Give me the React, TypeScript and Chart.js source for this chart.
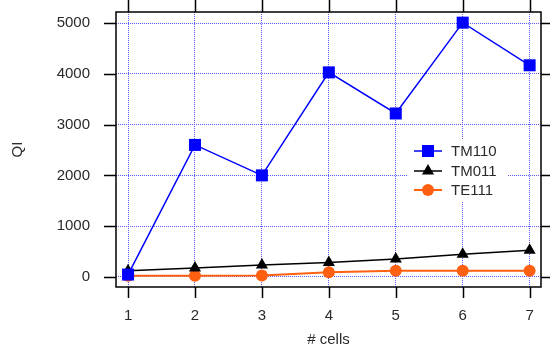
import React, { useEffect, useRef } from "react";
import { Chart, registerables } from "chart.js";

Chart.register(...registerables);

const cells = [1, 2, 3, 4, 5, 6, 7];
const tm110 = [45, 2600, 2000, 4030, 3220, 5010, 4170];
const tm011 = [120, 175, 235, 285, 350, 445, 525];
const te111 = [20, 20, 25, 90, 118, 118, 118];
const yTicks = [0, 1000, 2000, 3000, 4000, 5000];
const seriesNames = ["TM110", "TM011", "TE111"];
const seriesColors = ["#0000ff", "#000000", "#ff6010"];

const FONT = "'Liberation Sans', Arial, sans-serif";
const TEXT = "#2a2a2a";

export default function App() {
  const ref = useRef<HTMLCanvasElement>(null);
  useEffect(() => {
    document.body.style.margin = "0";
    const toXY = (arr: number[]) => cells.map((c, i) => ({ x: c, y: arr[i] }));
    function drawMarker(ctx: any, style: string, x: number, y: number, r: number, color: string) {
      ctx.save();
      ctx.fillStyle = color;
      ctx.beginPath();
      if (style === "rect") {
        const s = Math.SQRT1_2 * r;
        ctx.rect(x - s, y - s, 2 * s, 2 * s);
      } else if (style === "triangle") {
        ctx.moveTo(x, y - r);
        ctx.lineTo(x + r * 0.866, y + r * 0.5);
        ctx.lineTo(x - r * 0.866, y + r * 0.5);
        ctx.closePath();
      } else {
        ctx.arc(x, y, r, 0, Math.PI * 2);
      }
      ctx.fill();
      ctx.restore();
    }
    const framePlugin = {
      id: "frame",
      afterDraw(chart: any) {
        const { ctx, chartArea: a } = chart;
        const xs = chart.scales.x;
        const ys = chart.scales.y;
        ctx.save();
        const lx = 407, ly = 140, lw = 101, lh = 62;
        ctx.fillStyle = "#ffffff";
        ctx.fillRect(lx, ly, lw, lh);
        const rows = [151, 171, 190];
        const styles = ["rect", "triangle", "circle"];
        const radii = [8.5, 7, 6];
        rows.forEach((ry, i) => {
          ctx.strokeStyle = seriesColors[i];
          ctx.lineWidth = i === 2 ? 2 : 1.5;
          ctx.beginPath();
          ctx.moveTo(414, ry);
          ctx.lineTo(442, ry);
          ctx.stroke();
          drawMarker(ctx, styles[i], 428, ry, radii[i], seriesColors[i]);
          ctx.fillStyle = TEXT;
          ctx.font = `15px ${FONT}`;
          ctx.textBaseline = "middle";
          ctx.textAlign = "left";
          ctx.fillText(seriesNames[i], 451, ry + 1);
        });
        ctx.strokeStyle = "#000";
        ctx.lineWidth = 1.5;
        ctx.strokeRect(a.left, a.top, a.right - a.left, a.bottom - a.top);
        ctx.beginPath();
        xs.ticks.forEach((t: any) => {
          const px = Math.round(xs.getPixelForValue(t.value)) + 0.5;
          ctx.moveTo(px, a.bottom);
          ctx.lineTo(px, a.bottom + 11);
          ctx.moveTo(px, a.top);
          ctx.lineTo(px, a.top - 12);
        });
        ys.ticks.forEach((t: any) => {
          const py = Math.round(ys.getPixelForValue(t.value)) + 0.5;
          ctx.moveTo(a.left, py);
          ctx.lineTo(a.left - 12, py);
          ctx.moveTo(a.right, py);
          ctx.lineTo(a.right + 12, py);
        });
        ctx.stroke();
        ctx.restore();
      },
    };
    const chart = new Chart(ref.current as HTMLCanvasElement, {
      type: "line",
      data: {
        datasets: [
          {
            label: seriesNames[0],
            data: toXY(tm110),
            borderColor: seriesColors[0],
            backgroundColor: seriesColors[0],
            borderWidth: 1.5,
            pointStyle: "rect",
            pointRadius: 8.5,
            pointBorderWidth: 0,
          },
          {
            label: seriesNames[1],
            data: toXY(tm011),
            borderColor: seriesColors[1],
            backgroundColor: seriesColors[1],
            borderWidth: 1.5,
            pointStyle: "triangle",
            pointRadius: 7,
            pointBorderWidth: 0,
          },
          {
            label: seriesNames[2],
            data: toXY(te111),
            borderColor: seriesColors[2],
            backgroundColor: seriesColors[2],
            borderWidth: 2,
            pointStyle: "circle",
            pointRadius: 6,
            pointBorderWidth: 0,
          },
        ],
      },
      options: {
        animation: false,
        responsive: false,
        layout: { padding: { top: 12, right: 9, left: 0, bottom: 0 } },
        plugins: { legend: { display: false }, tooltip: { enabled: false } },
        scales: {
          x: {
            type: "linear",
            min: 0.82,
            max: 7.17,
            afterBuildTicks: (s: any) => {
              s.ticks = cells.map((v) => ({ value: v }));
            },
            afterFit: (s: any) => {
              s.height = 64;
              s.paddingLeft = 0;
              s.paddingRight = 0;
            },
            grid: { color: "#5a5aff", lineWidth: 1, drawTicks: false },
            border: { display: false, dash: [1, 1] },
            ticks: { color: TEXT, font: { family: FONT, size: 15 }, padding: 20, callback: (v: any) => String(v) },
            title: { display: true, text: "# cells", color: TEXT, font: { family: FONT, size: 15 }, padding: 2 },
          },
          y: {
            type: "linear",
            min: -200,
            max: 5220,
            afterBuildTicks: (s: any) => {
              s.ticks = yTicks.map((v) => ({ value: v }));
            },
            afterFit: (s: any) => {
              s.width = 116;
              s.paddingTop = 0;
              s.paddingBottom = 0;
            },
            grid: { color: "#5a5aff", lineWidth: 1, drawTicks: false },
            border: { display: false, dash: [1, 1] },
            ticks: { color: TEXT, font: { family: FONT, size: 15 }, padding: 26, callback: (v: any) => String(v) },
            title: { display: true, text: "QI", color: TEXT, font: { family: FONT, size: 15 }, padding: 9 },
          },
        },
      },
      plugins: [framePlugin],
    } as any);
    return () => chart.destroy();
  }, []);
  return (
    <div style={{ position: "fixed", left: 0, top: 0, width: 550, height: 351 }}>
      <canvas ref={ref} width={550} height={351} />
    </div>
  );
}
